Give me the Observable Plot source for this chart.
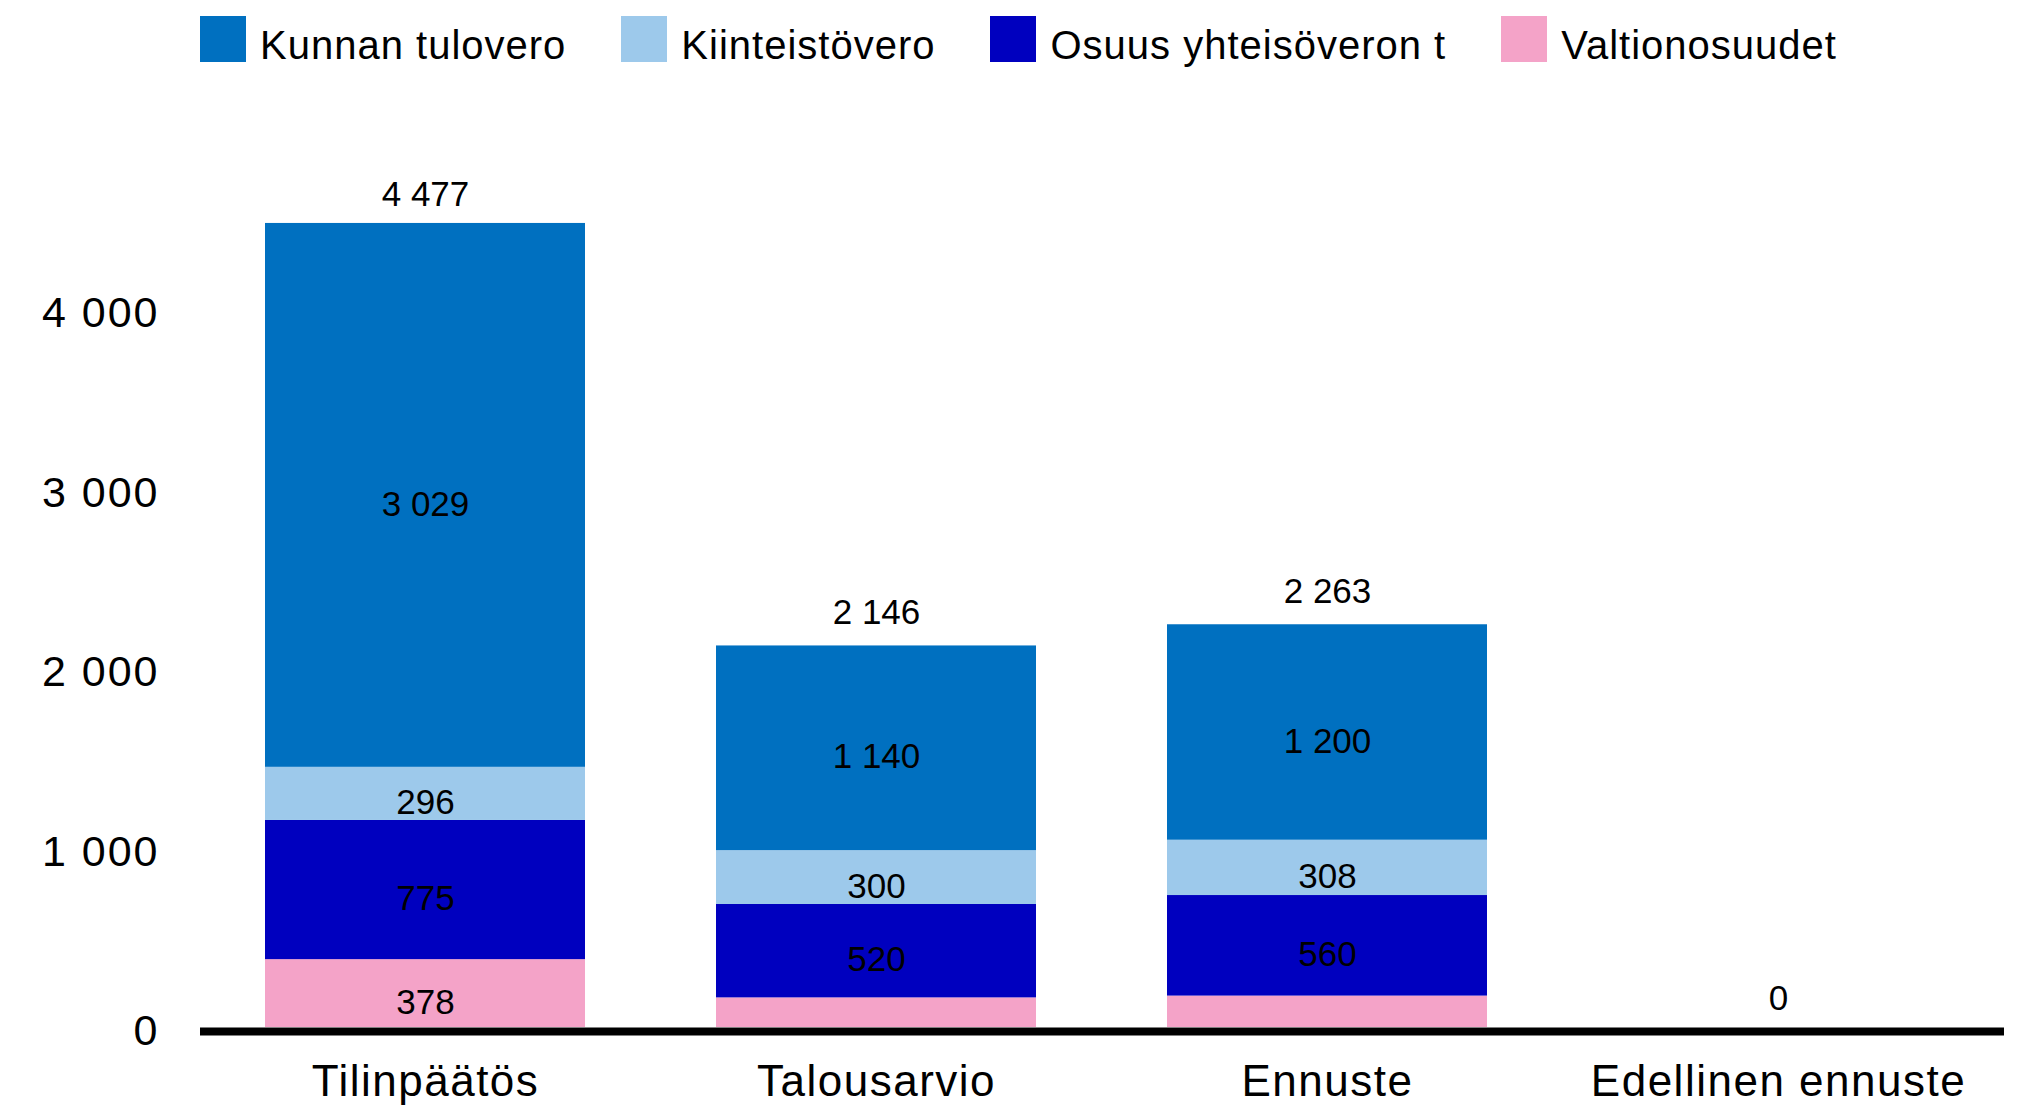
<!DOCTYPE html>
<html>
<head>
<meta charset="utf-8">
<script src="https://cdn.jsdelivr.net/npm/d3@7"></script>
<script src="https://cdn.jsdelivr.net/npm/@observablehq/plot@0.6"></script>
<style>
  html, body { margin: 0; padding: 0; background: #fff; }
  body { width: 2023px; height: 1118px; overflow: hidden; font-family: "Liberation Sans", Arial, sans-serif; }
  #legend { height: 80px; box-sizing: border-box; padding-top: 16px; padding-left: 200px; display: flex; gap: 55px; }
  .item { display: flex; align-items: flex-start; }
  .sw { width: 46px; height: 46px; margin-right: 14px; }
  .lbl { font-size: 40px; line-height: 46px; padding-top: 6px; letter-spacing: 1px; color: #000; white-space: nowrap; }
  svg [aria-label="x-axis tick label"] text { letter-spacing: 1.5px; }
  svg [aria-label="y-axis tick label"] text { letter-spacing: 2px; }
</style>
</head>
<body>
<div id="legend"></div>
<div id="chart"></div>
<script>
const categories = ["Tilinpäätös", "Talousarvio", "Ennuste", "Edellinen ennuste"];
const series = ["Kunnan tulovero", "Kiinteistövero", "Osuus yhteisöveron t", "Valtionosuudet"];
const colors = ["#0070C0", "#9DC9EB", "#0000BF", "#F4A3C8"];
const kunnanTulovero = [3029, 1140, 1200, 0];
const kiinteistovero = [296, 300, 308, 0];
const osuusYhteisoveron = [775, 520, 560, 0];
const valtionosuudet = [378, 165, 175, 0];
const totals = [4477, 2146, 2263, 0];
const yTicks = [0, 1000, 2000, 3000, 4000];

const seriesValues = [kunnanTulovero, kiinteistovero, osuusYhteisoveron, valtionosuudet];
const fmt = v => d3.format(",")(v).replace(/,/g, " ");

// stacking order: bottom first (reverse of legend order)
const rows = [];
categories.forEach((c, i) => {
  for (let s = series.length - 1; s >= 0; s--) {
    rows.push({category: c, series: series[s], value: seriesValues[s][i]});
  }
});

// legend
const legend = document.getElementById("legend");
series.forEach((s, i) => {
  const item = document.createElement("div");
  item.className = "item";
  const sw = document.createElement("div");
  sw.className = "sw";
  sw.style.background = colors[i];
  const lbl = document.createElement("div");
  lbl.className = "lbl";
  lbl.textContent = s;
  item.appendChild(sw);
  item.appendChild(lbl);
  legend.appendChild(item);
});

const chart = Plot.plot({
  width: 2023,
  height: 1038,
  marginLeft: 200,
  marginRight: 19,
  marginTop: 139,
  marginBottom: 91,
  style: {fontFamily: "'Liberation Sans', Arial, sans-serif", fontSize: "35px", color: "#000", background: "#fff", overflow: "visible"},
  x: {domain: categories, paddingInner: 0.29, paddingOuter: 0.145, label: null},
  y: {domain: [0, 4500], label: null},
  color: {domain: series, range: colors},
  marks: [
    Plot.axisX({tickSize: 0, tickPadding: 37, fontSize: 44, label: null}),
    Plot.axisY({ticks: yTicks, tickFormat: fmt, tickSize: 0, tickPadding: 41, fontSize: 43, dy: 4, label: null}),
    Plot.barY(rows, Plot.stackY({x: "category", y: "value", fill: "series"})),
    Plot.text(rows, Plot.stackY({
      x: "category", y: "value",
      text: d => d.value > 200 ? fmt(d.value) : null,
      fill: "#000", fontSize: 35, dy: 9
    })),
    Plot.text(categories, {
      x: d => d, y: (d, i) => totals[i],
      text: (d, i) => fmt(totals[i]),
      fill: "#000", fontSize: 35, dy: -29
    }),
    Plot.ruleY([0], {stroke: "#000", strokeWidth: 8, dy: 4})
  ]
});
document.getElementById("chart").appendChild(chart);
</script>
</body>
</html>
